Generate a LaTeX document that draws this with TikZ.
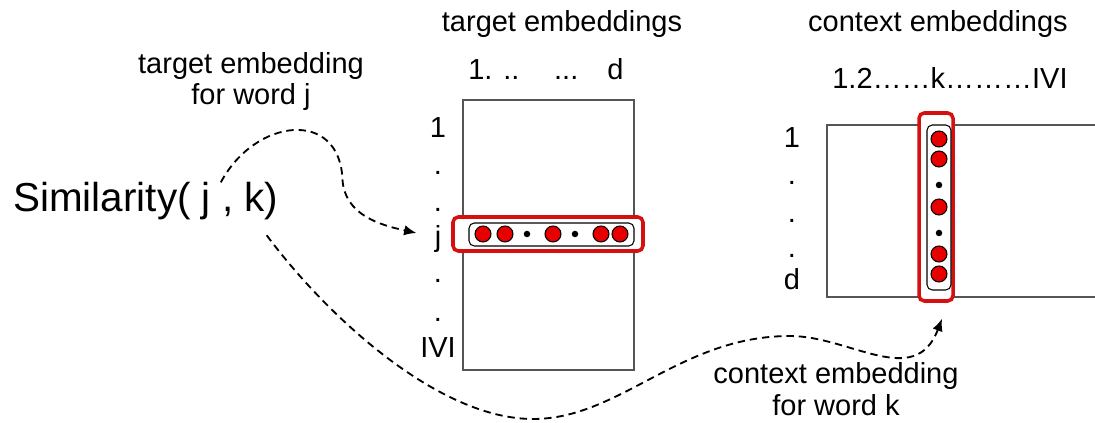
\documentclass[tikz,border=0pt]{standalone}
\usepackage{fontspec}
\setmainfont{Liberation Sans}
\usetikzlibrary{arrows.meta}
\definecolor{boxred}{RGB}{212,16,16}
\definecolor{unitred}{RGB}{232,0,0}
\definecolor{matgray}{RGB}{85,85,85}
\begin{document}
\begin{tikzpicture}

  \tikzset{
    lbl/.style={font=\fontsize{16.5}{18}\selectfont,inner sep=0},
    mat/.style={draw=matgray,line width=1.1pt,fill=white,inner sep=0},
    hilite/.style={draw=boxred,line width=2pt,fill=white,rounded corners=3pt,inner sep=0},
    vec/.style={draw=black,line width=0.6pt,rounded corners=3pt,inner sep=0},
    unit/.style={circle,draw=black,line width=0.6pt,fill=unitred,minimum size=0.32cm,inner sep=0},
    gap/.style={circle,fill=black,minimum size=0.13cm,inner sep=0},
    link/.style={->,>={Latex[length=7pt,width=6pt]},line width=1.05pt,dash pattern=on 4.2pt off 2.8pt}
  }
  \clip (0,0) rectangle (21.9,8.46);

  \node[mat,minimum width=3.42cm,minimum height=5.4cm] (tmat) at (10.97,3.76) {};
  \node[mat,minimum width=6.46cm,minimum height=3.44cm] (cmat) at (19.77,4.24) {};

  \node[hilite,minimum width=3.8cm,minimum height=0.68cm] (jbox) at (10.96,3.78) {};
  \node[vec,minimum width=3.3cm,minimum height=0.46cm] (jvec) at (11.03,3.77) {};
  \node[hilite,minimum width=0.68cm,minimum height=3.76cm] (kbox) at (18.72,4.32) {};
  \node[vec,minimum width=0.48cm,minimum height=3.3cm] (kvec) at (18.78,4.31) {};

  \foreach \x [count=\i] in {9.66,10.1,11.06,12.02,12.4}
    \node[unit] (ju\i) at (\x,3.78) {};
  \foreach \x [count=\i] in {10.54,11.5}
    \node[gap] (jg\i) at (\x,3.78) {};
  \foreach \y [count=\i] in {5.68,5.28,4.32,3.38,2.98}
    \node[unit] (ku\i) at (18.78,\y) {};
  \foreach \y [count=\i] in {4.76,3.8}
    \node[gap] (kg\i) at (18.78,\y) {};

  \foreach \t/\y [count=\i] in {1/5.7,./4.96,./4.22,j/3.52,./2.8,./2.02,IVI/1.3}
    \node[lbl,anchor=base] (tr\i) at (8.76,\y) {\t};
  \foreach \t/\y [count=\i] in {1/5.5,./4.76,./4.0,./3.3,d/2.66}
    \node[lbl,anchor=base] (cr\i) at (15.84,\y) {\t};

  \node[lbl,anchor=base] (ttitle) at (11.24,7.82) {target embeddings};
  \node[lbl,anchor=base] (ctitle) at (18.76,7.82) {context embeddings};
  \node[lbl,anchor=base west] (tcols) at (9.36,6.86) {1. ..\hspace{1.2em}...\hspace{1em}d};
  \node[lbl,anchor=base west] (ccols) at (16.64,6.68) {1.2……k………IVI};

  \node[lbl,align=center] (tnote) at (5.02,6.83) {target embedding\\for word j};
  \node[lbl,align=center] (cnote) at (16.72,0.68) {context embedding\\for word k};
  \node[font=\fontsize{23}{26}\selectfont,anchor=base west,inner sep=0] (sim) at (0.26,4.22) {Similarity( j , k)};

  \draw[link] ([xshift=1.5cm]sim.north) .. controls (5.1,6.1) and (6.8,6.3) .. (6.85,4.86)
    .. controls (6.9,4.16) and (7.6,3.96) .. ([shift={(-0.36,0.13)}]tr4.west);
  \draw[link] ([shift={(-0.24,-0.29)}]sim.south east) .. controls (6.6,2.06) and (8.8,0.08) .. (10.66,0.08)
    .. controls (12.4,0.08) and (13.6,1.74) .. (15.8,1.74)
    .. controls (17.0,1.74) and (18.3,0.66) .. ([shift={(0.12,-0.32)}]kbox.south);
\end{tikzpicture}
\end{document}
